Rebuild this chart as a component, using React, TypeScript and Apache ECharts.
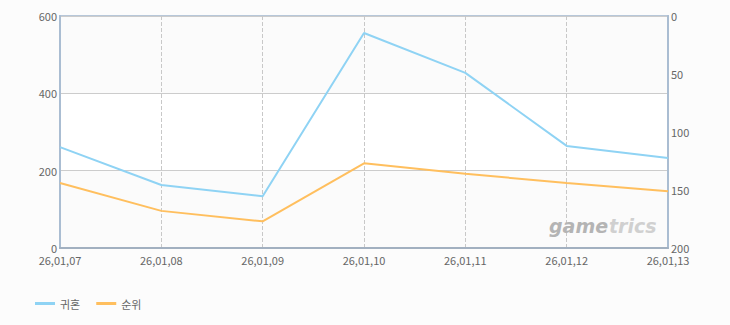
import React, { useEffect, useRef } from "react";
import * as echarts from "echarts";

const categories = ["26,01,07", "26,01,08", "26,01,09", "26,01,10", "26,01,11", "26,01,12", "26,01,13"];
const guihonValues = [261, 163, 134, 556, 453, 264, 233];
const rankValues = [144, 168, 177, 127, 136, 144, 151];
const seriesNames = ["귀혼", "순위"];

export default function App() {
  const ref = useRef<HTMLDivElement>(null);
  useEffect(() => {
    document.body.style.margin = "0";
    document.body.style.background = "#fcfcfc";
    const chart = echarts.init(ref.current!, undefined, { renderer: "svg" });
    const font = "'Noto Sans CJK KR', 'Noto Sans', sans-serif";
    const wmFont = "Verdana, 'DejaVu Sans', sans-serif";
    chart.setOption({
      animation: false,
      backgroundColor: "#fcfcfc",
      textStyle: { fontFamily: font },
      grid: {
        left: 60,
        right: 62,
        top: 16,
        bottom: 77,
        show: true,
        borderColor: "#b7c7d9",
        borderWidth: 2,
        backgroundColor: "transparent",
      },
      legend: {
        left: 30,
        top: 293,
        icon: "rect",
        itemWidth: 20,
        itemHeight: 3,
        itemGap: 16,
        textStyle: { color: "#666", fontSize: 11, fontFamily: font },
        data: seriesNames,
      },
      xAxis: {
        type: "category",
        data: categories,
        boundaryGap: false,
        axisLine: { show: true, lineStyle: { color: "#a2b0c0", width: 2 } },
        axisTick: { show: false },
        axisLabel: { color: "#666", fontSize: 11, margin: 6, fontFamily: font },
        splitLine: { show: true, lineStyle: { color: "#c8c8c8", type: "dashed", width: 1 } },
      },
      yAxis: [
        {
          type: "value",
          min: 0,
          max: 600,
          interval: 200,
          axisLine: { show: true, lineStyle: { color: "#aabdd2", width: 2 } },
          axisTick: { show: false },
          axisLabel: { color: "#666", fontSize: 11, margin: 3, fontFamily: font },
          splitLine: { show: true, lineStyle: { color: "#cccccc", width: 1 } },
          splitArea: { show: true, areaStyle: { color: ["#fbfbfb", "#ffffff", "#fbfbfb"] } },
        },
        {
          type: "value",
          min: 0,
          max: 200,
          interval: 50,
          inverse: true,
          position: "right",
          axisLine: { show: true, lineStyle: { color: "#aabdd2", width: 2 } },
          axisTick: { show: false },
          axisLabel: { color: "#666", fontSize: 11, margin: 3, fontFamily: font },
          splitLine: { show: false },
        },
      ],
      series: [
        {
          name: seriesNames[0],
          type: "line",
          yAxisIndex: 0,
          data: guihonValues,
          showSymbol: false,
          symbol: "none",
          z: 5,
          lineStyle: { color: "#8fd3f4", width: 2 },
          itemStyle: { color: "#8fd3f4" },
        },
        {
          name: seriesNames[1],
          type: "line",
          yAxisIndex: 1,
          data: rankValues,
          showSymbol: false,
          symbol: "none",
          z: 5,
          lineStyle: { color: "#ffbf5e", width: 2 },
          itemStyle: { color: "#ffbf5e" },
        },
      ],
      graphic: {
        elements: [
          {
            type: "text",
            x: 549,
            y: 216,
            z: 3,
            silent: true,
            style: {
              text: "game",
              fill: "#b4b4b4",
              font: "italic bold 19px " + wmFont,
            },
          },
          {
            type: "text",
            x: 609,
            y: 216,
            z: 3,
            silent: true,
            style: {
              text: "trics",
              fill: "#d0d0d0",
              font: "italic bold 19px " + wmFont,
            },
          },
        ],
      },
    });
    return () => chart.dispose();
  }, []);
  return <div ref={ref} style={{ width: 730, height: 325 }} />;
}
